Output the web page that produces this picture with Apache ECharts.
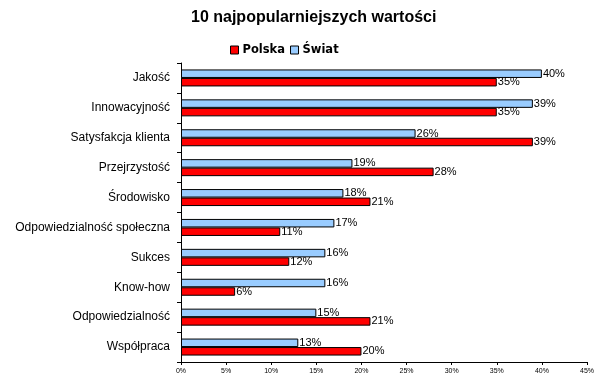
<!DOCTYPE html>
<html><head><meta charset="utf-8">
<script src="https://cdn.jsdelivr.net/npm/echarts@6/dist/echarts.min.js"></script>
<style>html,body{margin:0;padding:0;background:#fff}#c{width:600px;height:386px}</style>
</head><body><div id="c"></div>
<script>
const categories = ["Jakość","Innowacyjność","Satysfakcja klienta","Przejrzystość","Środowisko","Odpowiedzialność społeczna","Sukces","Know-how","Odpowiedzialność","Współpraca"];
const polska = [35,35,39,28,21,11,12,6,21,20];
const swiat = [40,39,26,19,18,17,16,16,15,13];
const xTicks = [0,5,10,15,20,25,30,35,40,45];

const chart = echarts.init(document.getElementById('c'));
const lbl = {show:true, position:'right', distance:1, formatter: p => p.value + '%', color:'#000', fontFamily:'Liberation Sans', fontSize:11};
chart.setOption({
  animation:false,
  title:{text:'10 najpopularniejszych wartości', left:186, top:5, textStyle:{fontFamily:'Liberation Sans', fontSize:16, fontWeight:'bold', color:'#000'}},
  legend:{data:['Polska','Świat'], top:39, left:225, itemWidth:8, itemHeight:8, itemGap:5, icon:'rect',
    itemStyle:{borderColor:'#000', borderWidth:1},
    textStyle:{fontFamily:'DejaVu Sans', fontSize:11.5, fontWeight:'bold', color:'#000', padding:[0,0,0,-1]}},
  grid:{left:181, right:13, top:63, bottom:24, containLabel:false},
  xAxis:{type:'value', min:0, max:45, interval:5,
    axisLine:{show:true, lineStyle:{color:'#000'}}, axisTick:{show:true, length:3, lineStyle:{color:'#000'}},
    splitLine:{show:false},
    axisLabel:{formatter: v => v + '%', fontFamily:'Liberation Sans', fontSize:7, color:'#000', margin:6}},
  yAxis:{type:'category', data:categories, inverse:true,
    axisLine:{show:true, lineStyle:{color:'#000'}}, axisTick:{show:true, length:4, lineStyle:{color:'#000'}},
    axisLabel:{fontFamily:'Liberation Sans', fontSize:12, color:'#000', margin:11}},
  series:[
    {name:'Świat', type:'bar', data:swiat, barWidth:8.5, barGap:'0%',
      itemStyle:{color:'#99CCFF', borderColor:'#000', borderWidth:1}, label:lbl},
    {name:'Polska', type:'bar', data:polska, barWidth:8.5,
      itemStyle:{color:'#FF0000', borderColor:'#000', borderWidth:1}, label:lbl}
  ]
});
</script></body></html>
